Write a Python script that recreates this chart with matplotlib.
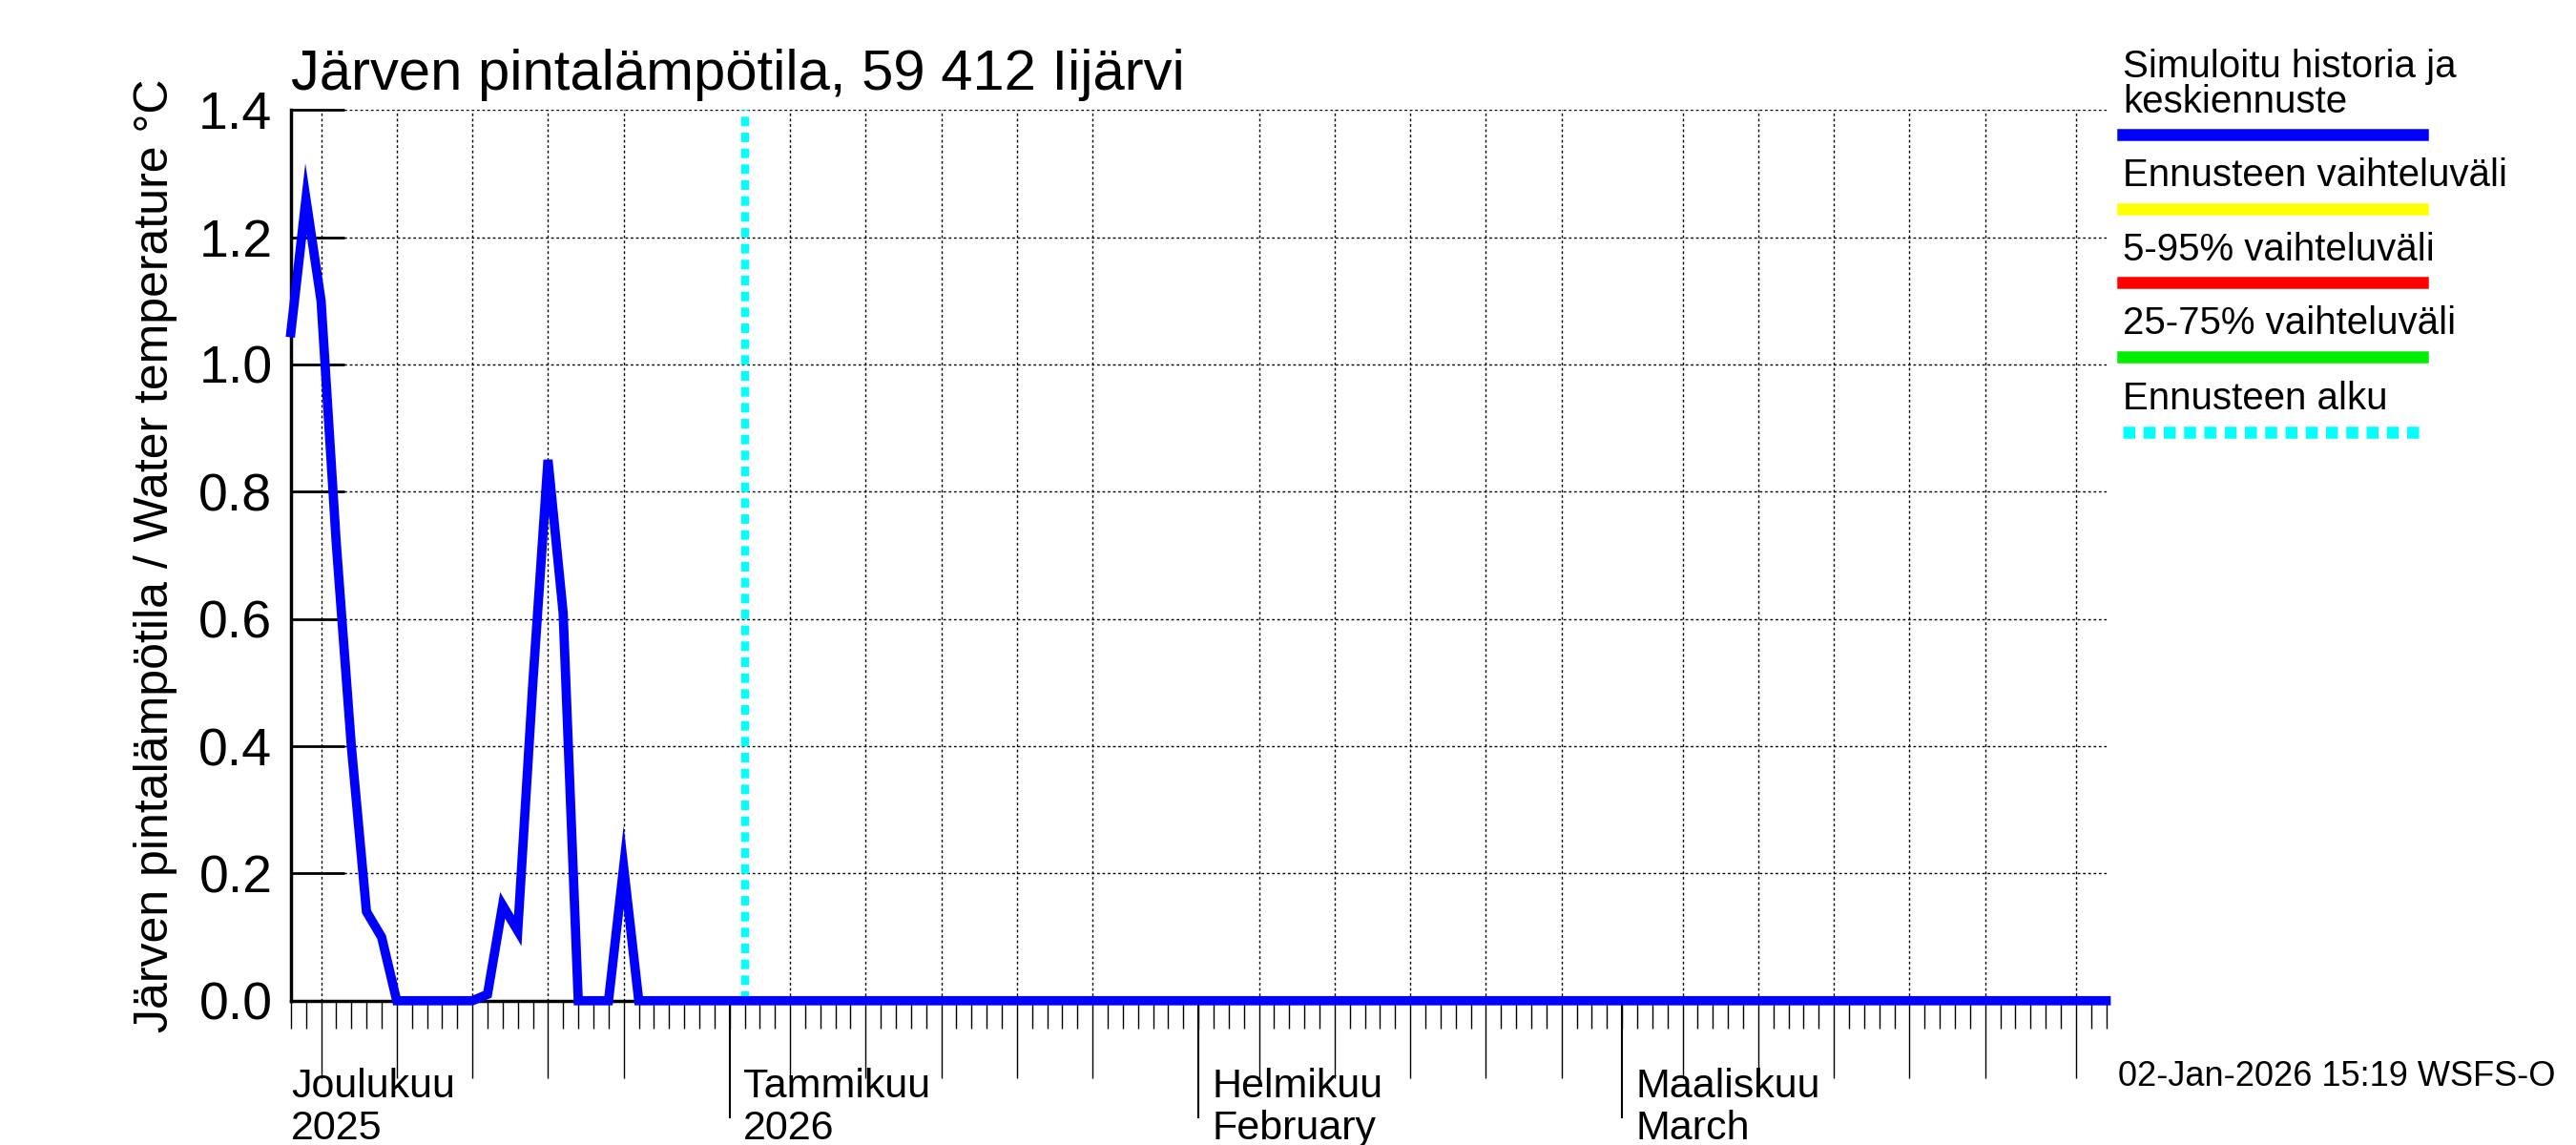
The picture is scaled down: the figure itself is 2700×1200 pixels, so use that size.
import matplotlib
matplotlib.use("Agg")
import matplotlib.pyplot as plt
import numpy as np
import datetime as dt
import matplotlib.dates as mdates

plt.rcParams['font.family'] = ['Liberation Sans', 'DejaVu Sans']

start = dt.date(2025, 12, 3)
hist_vals = [1.05, 1.26, 1.10, 0.72, 0.40, 0.14, 0.10, 0.0, 0.0, 0.0, 0.0, 0.0, 0.0,
             0.01, 0.15, 0.11, 0.50, 0.85, 0.61, 0.0, 0.0, 0.0, 0.21, 0.0]
n_days = 121
values = hist_vals + [0.0] * (n_days - len(hist_vals))
dates = [start + dt.timedelta(days=i) for i in range(n_days)]
forecast_start = dt.date(2026, 1, 2)
yticks = [0.0, 0.2, 0.4, 0.6, 0.8, 1.0, 1.2, 1.4]
month_labels = [(dt.date(2025, 12, 3), "Joulukuu\n2025"), (dt.date(2026, 1, 1), "Tammikuu\n2026"),
                (dt.date(2026, 2, 1), "Helmikuu\nFebruary"), (dt.date(2026, 3, 1), "Maaliskuu\nMarch")]
legend_items = [("Simuloitu historia ja\nkeskiennuste", "#0000ff", "-"),
                ("Ennusteen vaihteluväli", "#ffff00", "-"),
                ("5-95% vaihteluväli", "#ff0000", "-"),
                ("25-75% vaihteluväli", "#00ee00", "-"),
                ("Ennusteen alku", "#00ffff", ":")]

fig = plt.figure(figsize=(27, 12), dpi=100)
ax = fig.add_axes([0.1129, 0.126, 0.7047, 0.778])
dn = mdates.date2num(dates)
ax.plot(dn, values, color="#0000ff", lw=7, solid_joinstyle='miter', zorder=3, clip_on=False)
ax.axvline(mdates.date2num(forecast_start), color="#00ffff", lw=6, ls=(0, (1.2, 0.8)), zorder=2)
ax.set_xlim(mdates.date2num(start), mdates.date2num(dt.date(2026, 4, 1)) + 0.2)
ax.set_ylim(0, 1.4)
ax.set_yticks(yticks)
ax.set_yticklabels([f"{v:.1f}" for v in yticks], fontsize=40)
ax.tick_params(axis='y', direction='in', length=40, width=2, pad=14)

grid_days = []
d = dt.date(2025, 12, 1)
while d <= dt.date(2026, 4, 1):
    if d.day in (5, 10, 15, 20, 25) or (d.day == 31 and d.month == 3):
        grid_days.append(d)
    d += dt.timedelta(days=1)
month_starts = [dt.date(2026, 1, 1), dt.date(2026, 2, 1), dt.date(2026, 3, 1)]
ax.set_xticks(mdates.date2num(grid_days))
ax.set_xticklabels([])
ax.tick_params(axis='x', which='major', direction='out', length=58, width=1)
ax.set_xticks(mdates.date2num(dates), minor=True)
ax.tick_params(axis='x', which='minor', direction='out', length=21, width=1)
for m in month_starts:
    ax.plot([mdates.date2num(m)] * 2, [0, -0.183], color='black', lw=1.5, clip_on=False)
ax.grid(True, which='major', color='black', ls=(0, (2, 2)), lw=1)
for spine in ['top', 'right']:
    ax.spines[spine].set_visible(False)
ax.spines['left'].set_linewidth(2.5)
ax.spines['bottom'].set_linewidth(2.5)
for dd, lab in month_labels:
    x = mdates.date2num(dd) + (0.9 if dd.day == 1 else 0)
    ax.text(x, -0.075, lab, fontsize=31, va='top', ha='left', linespacing=1.15,
            transform=ax.get_xaxis_transform())

ax.set_ylabel("Järven pintalämpötila / Water temperature °C", fontsize=36, labelpad=16)
fig.text(0.1129, 0.912, "Järven pintalämpötila, 59 412 Iijärvi", fontsize=43, ha='left', va='bottom')
fig.text(0.992, 0.045, "02-Jan-2026 15:19 WSFS-O", fontsize=26, ha='right', va='bottom')

ly = [82, 127, 172, 217, 263]
for (lab, col, ls), y in zip(legend_items, ly):
    yf = 1 - y / 697
    if ls == ":":
        fig.add_artist(plt.Line2D([0.8240, 0.9405], [yf, yf], color=col, lw=9, ls=(0, (1, 0.7))))
    else:
        fig.add_artist(plt.Line2D([0.8240, 0.9405], [yf, yf], color=col, lw=9))
    fig.text(0.8240, yf + 0.013, lab, fontsize=29, ha='left', va='bottom', linespacing=0.95)

fig.savefig("out.png", dpi=100)
